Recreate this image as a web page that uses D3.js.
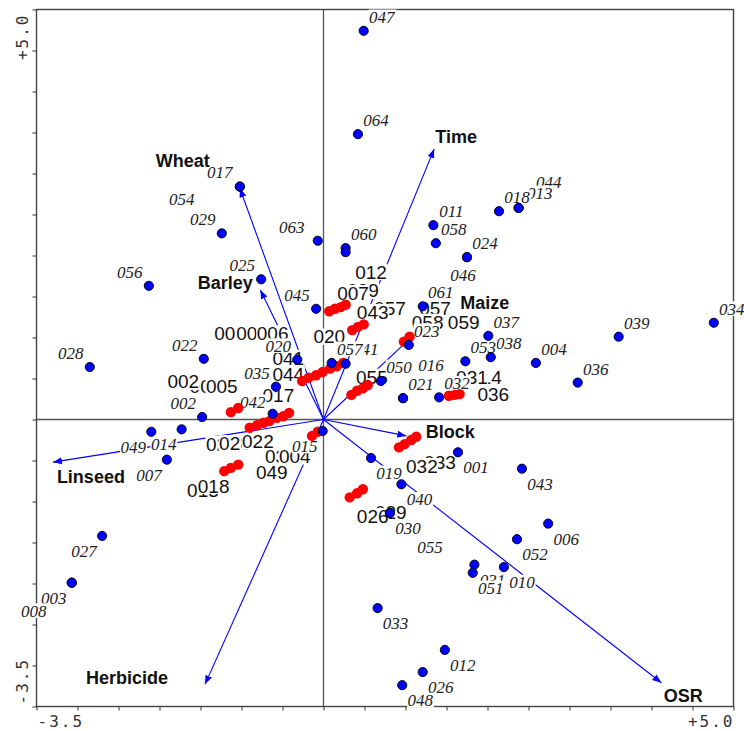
<!DOCTYPE html>
<html><head><meta charset="utf-8">
<script src="https://cdnjs.cloudflare.com/ajax/libs/d3/7.8.5/d3.min.js"></script>
<style>
body{margin:0;background:#fff}
svg{display:block}
.tick-lab{font-family:"DejaVu Sans Mono",monospace;font-size:16px;fill:#333;letter-spacing:2px}
.site-lab{font-family:"Liberation Serif","Times New Roman",serif;font-style:italic;font-size:17px;fill:#222}
.red-lab{font-family:"Liberation Sans",Arial,sans-serif;font-size:19px;fill:#111}
.env-lab{font-family:"Liberation Sans",Arial,sans-serif;font-weight:bold;font-size:18px;fill:#111}
</style>
</head><body>
<script>
// ---------------- DATA ----------------
// Sample (site) scores: blue points with italic labels
const siteIds = ["047","064","017","054","029","063","060","","056","025","045","028","022","002",
  "049","014","007","027","003","008","015","019","040","030","055","001","043","006","052",
  "031","051","010","033","012","026","048","034","039","004","036","037","038","053","021",
  "016","032","050","023","061","011","058","024","046","044","013","018","041","057","020","035","042"];
const siteX = [0.49,0.42,-1.02,-1.02,-1.24,-0.07,0.27,0.27,-2.13,-0.76,-0.09,-2.85,-1.46,-1.48,
  -2.10,-1.73,-1.91,-2.70,-3.07,-3.07,-0.01,0.58,0.95,0.81,0.81,1.64,2.42,2.74,2.36,
  1.84,1.82,2.20,0.66,1.48,1.21,0.96,4.76,3.60,2.59,3.10,2.01,2.04,1.73,0.97,
  0.97,1.41,0.70,1.04,1.21,1.34,1.37,1.75,1.75,2.38,2.38,2.14,0.27,0.10,-0.32,-0.58,-0.62];
const siteY = [4.74,3.48,2.84,2.84,2.27,2.18,2.09,2.04,1.63,1.71,1.35,0.64,0.74,0.03,
  -0.15,-0.12,-0.49,-1.42,-1.99,-1.99,-0.14,-0.47,-0.79,-1.14,-1.14,-0.40,-0.60,-1.27,-1.46,
  -1.77,-1.87,-1.80,-2.30,-2.81,-3.08,-3.24,1.18,1.01,0.69,0.45,1.02,0.76,0.71,0.26,
  0.26,0.27,0.47,0.91,1.38,2.37,2.15,1.98,1.98,2.58,2.58,2.54,0.68,0.69,0.73,0.40,0.07];

// Second group: red points (trajectories)
const redX = [0.07,0.14,0.21,0.27, 0.35,0.42,0.49, 0.98,1.05,
  -0.26,-0.18,-0.09,-0.01,0.08,0.16,0.24, 0.34,0.41,0.48,0.54, 1.53,1.60,1.66,
  0.92,0.99,1.07,1.13, 0.32,0.41,0.48, -1.13,-1.04,
  -0.90,-0.81,-0.73,-0.66,-0.57,-0.49,-0.42, -0.14,-0.07, -1.21,-1.13,-1.04];
const redY = [1.32,1.35,1.37,1.40, 1.09,1.13,1.16, 0.95,1.01,
  0.47,0.51,0.54,0.58,0.62,0.65,0.69, 0.30,0.35,0.38,0.42, 0.29,0.30,0.31,
  -0.34,-0.30,-0.25,-0.21, -0.95,-0.90,-0.85, 0.09,0.14,
  -0.10,-0.07,-0.04,-0.02,0.02,0.04,0.08, -0.20,-0.15, -0.63,-0.59,-0.55];
const redLabels = ["039","007","012","057","043","020","057","058","059","055","014","031","036",
  "008","009","006","041","044","017","003","002","005","025","028","022","034","004","049",
  "013","018","033","032","029","026"];
const redLabelX = [0.48,0.36,0.58,0.81,0.60,0.07,1.36,1.27,1.71,0.59,1.98,1.81,2.07,
  -1.14,-0.87,-0.62,-0.43,-0.43,-0.55,-1.44,-1.71,-1.24,-1.24,-1.08,-0.80,-0.52,-0.35,-0.63,
  -1.47,-1.34,1.42,1.20,0.82,0.60];
const redLabelY = [1.57,1.54,1.80,1.35,1.31,1.01,1.36,1.19,1.19,0.52,0.52,0.52,0.31,
  1.05,1.05,1.05,0.75,0.55,0.30,0.41,0.46,0.41,-0.30,-0.29,-0.27,-0.45,-0.45,-0.65,
  -0.86,-0.81,-0.52,-0.57,-1.13,-1.18];

// Environmental variables (arrows)
const envNames = ["Time","Wheat","Barley","Maize","Linseed","Herbicide","Block","OSR"];
const envX = [1.35,-1.02,-0.77,1.09,-3.30,-1.445,1.01,4.12];
const envY = [3.30,2.82,1.58,1.02,-0.52,-3.23,-0.20,-3.21];

const axisMin = -3.5, axisMax = 5.0;
const axisEndLabels = ["-3.5","+5.0"];

// ---------------- LAYOUT ----------------
const placements = {ne:[18,-14], nw:[-19,-14], se:[18,15], sw:[-18,15]};
const sitePlace = ["ne","ne",[-20,-15],[-58,12],"nw",[-26,-14],"ne",null,"nw","nw","nw","nw","nw","nw",
  "sw","sw","sw","sw","sw",[-38,28],"sw","se","se","se",[40,34],"se","se","se","se",
  "se","se","se","se","se","se","se","ne","ne","ne","ne","ne","ne","ne","ne",
  [28,-33],"ne","ne","ne","ne","ne","ne","ne",[-4,18],[30,-26],[21,-15],"ne",[20,-15],"ne","nw","nw",[-20,-12]];
const envLabelOffset = [[22,-12],[-57,-28],[-35,-7],[72,-33],[38,15],[-78,-7],[44,-4],[22,13]];

const W = 744, H = 731;
const svg = d3.select("body").append("svg").attr("width", W).attr("height", H);
const x = d3.scaleLinear().domain([axisMin, axisMax]).range([36.5, 733.5]);
const y = d3.scaleLinear().domain([axisMin, axisMax]).range([706.5, 9.5]);

svg.append("defs").append("marker")
  .attr("id","ah").attr("markerUnits","userSpaceOnUse")
  .attr("markerWidth",12).attr("markerHeight",10).attr("refX",9).attr("refY",0)
  .attr("viewBox","0 -5 12 10").attr("orient","auto")
  .append("path").attr("d","M0,-3.5L9,0L0,3.5Z").attr("fill","#0000ff");

// frame
svg.append("rect").attr("x", x(axisMin)).attr("y", y(axisMax))
  .attr("width", x(axisMax)-x(axisMin)).attr("height", y(axisMin)-y(axisMax))
  .attr("fill","none").attr("stroke","#444").attr("stroke-width",1.4);

// ticks
const tickVals = d3.range(axisMin, axisMax + 0.001, 0.5);
const gl = svg.append("g").attr("transform",`translate(${x(axisMin)},0)`)
  .call(d3.axisLeft(y).tickValues(tickVals).tickSize(4).tickFormat(""));
const gb = svg.append("g").attr("transform",`translate(0,${y(axisMin)})`)
  .call(d3.axisBottom(x).tickValues(tickVals).tickSize(4).tickFormat(""));
[gl,gb].forEach(g=>{ g.select(".domain").remove(); g.selectAll("line").attr("stroke","#333"); });

// end labels
svg.append("text").attr("class","tick-lab").attr("x", x(axisMin)+1).attr("y", 727).text(axisEndLabels[0]);
svg.append("text").attr("class","tick-lab").attr("x", x(axisMax)+1).attr("y", 727).attr("text-anchor","end").text(axisEndLabels[1]);
svg.append("text").attr("class","tick-lab").attr("transform",`translate(28,${y(axisMin)-2}) rotate(-90)`).text(axisEndLabels[0]);
svg.append("text").attr("class","tick-lab").attr("transform",`translate(28,${y(axisMax)+4}) rotate(-90)`).attr("text-anchor","end").text(axisEndLabels[1]);

// axes through origin
svg.append("line").attr("x1",x(0)).attr("x2",x(0)).attr("y1",y(axisMax)).attr("y2",y(axisMin)).attr("stroke","#555").attr("stroke-width",1.3);
svg.append("line").attr("x1",x(axisMin)).attr("x2",x(axisMax)).attr("y1",y(0)).attr("y2",y(0)).attr("stroke","#555").attr("stroke-width",1.3);

// arrows
svg.append("g").selectAll("line").data(envNames).join("line")
  .attr("x1",x(0)).attr("y1",y(0))
  .attr("x2",(d,i)=>x(envX[i])).attr("y2",(d,i)=>y(envY[i]))
  .attr("stroke","#0000ff").attr("stroke-width",1.1).attr("marker-end","url(#ah)");

function boxedLabel(parent, str, px, py, cls, pad){
  const g = parent.append("g");
  const r = g.append("rect").attr("fill","#fff");
  const t = g.append("text").attr("class",cls).attr("x",px).attr("y",py)
    .attr("dy","0.35em").attr("text-anchor","middle").text(str);
  const b = t.node().getBBox();
  const fs = parseFloat(getComputedStyle(t.node()).fontSize);
  const base = py + 0.35*fs;
  r.attr("x", b.x - pad).attr("width", b.width + 2*pad)
   .attr("y", base - 0.78*fs).attr("height", 0.86*fs);
}

// red labels (upright)
const gRL = svg.append("g");
redLabels.forEach((s,i)=> boxedLabel(gRL, s, x(redLabelX[i]), y(redLabelY[i]), "red-lab", 0.5));

// site labels (italic)
const gSL = svg.append("g");
siteIds.forEach((s,i)=>{
  const p = sitePlace[i];
  if (!p || !s) return;
  const off = typeof p === "string" ? placements[p] : p;
  boxedLabel(gSL, s, x(siteX[i]) + off[0], y(siteY[i]) + off[1], "site-lab", 0.5);
});

// red points
svg.append("g").selectAll("circle").data(redX).join("circle")
  .attr("cx",(d,i)=>x(redX[i])).attr("cy",(d,i)=>y(redY[i])).attr("r",5.2)
  .attr("fill","#ff0000");

// blue points
svg.append("g").selectAll("circle").data(siteIds).join("circle")
  .attr("cx",(d,i)=>x(siteX[i])).attr("cy",(d,i)=>y(siteY[i])).attr("r",4.6)
  .attr("fill","#0000ff").attr("stroke","#000").attr("stroke-width",0.9);

// env labels
svg.append("g").selectAll("text").data(envNames).join("text")
  .attr("class","env-lab").attr("text-anchor","middle").attr("dy","0.35em")
  .attr("x",(d,i)=>x(envX[i]) + envLabelOffset[i][0])
  .attr("y",(d,i)=>y(envY[i]) + envLabelOffset[i][1])
  .text(d=>d);
</script>
</body></html>
